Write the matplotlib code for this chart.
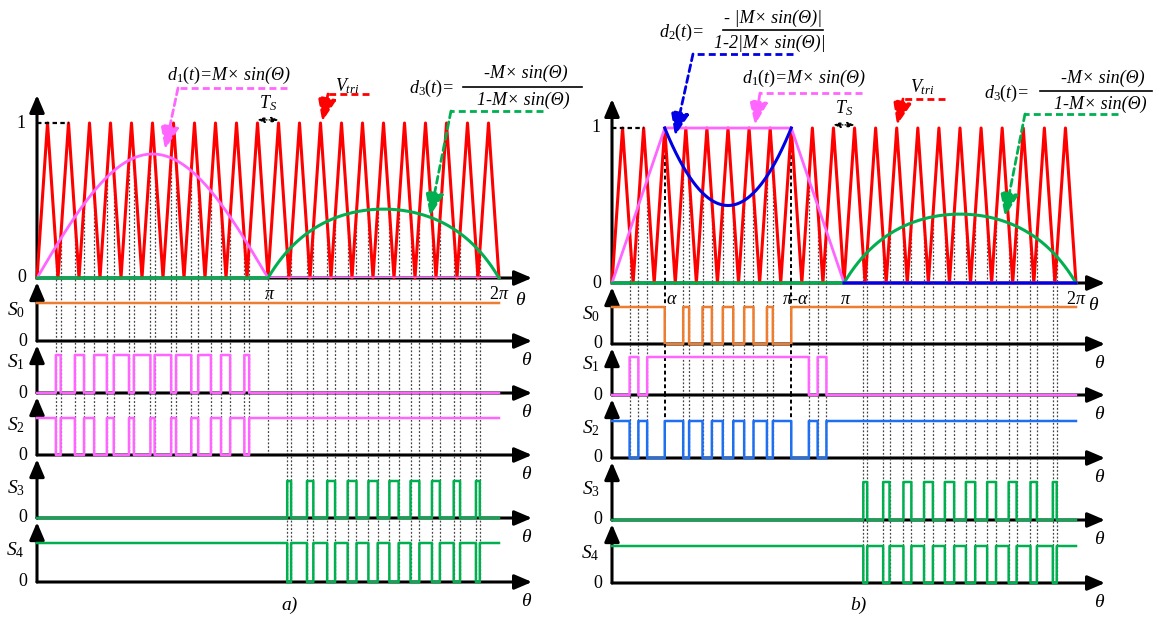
import numpy as np
import matplotlib.pyplot as plt
from matplotlib.lines import Line2D

plt.rcParams['font.family'] = ['Liberation Serif', 'DejaVu Serif']
plt.rcParams['mathtext.fontset'] = 'custom'
plt.rcParams['mathtext.rm'] = 'Liberation Serif'
plt.rcParams['mathtext.it'] = 'Liberation Serif:italic'
plt.rcParams['mathtext.bf'] = 'Liberation Serif:bold'

W, H = 1163, 619
PI = np.pi

# values
n_periods = 22            # carrier triangles over 0..2pi
M_a = 0.8                 # modulation index, panel a)
alpha = 2.5 * PI / 11     # saturation angle, panel b)
d2_min = 0.5              # lowest point of d2 in panel b)
d1b_theta = [0, alpha, PI - alpha, PI]
d1b_val = [0, 1, 1, 0]
switch_names = ['$S_\\mathit{0}$', '$S_\\mathit{1}$', '$S_2$', '$S_3$', '$S_4$']

RED, MAG, GRN, ORG = '#ff0000', '#ff66ff', '#00b050', '#ed7d31'
BLU, SKY, DOT = '#0000e6', '#1f70f0', '#444444'

th = np.linspace(0, 2 * PI, 40001)
car_th = np.arange(2 * n_periods + 1) * PI / n_periods
car_v = np.arange(2 * n_periods + 1) % 2
tri = np.interp(th, car_th, car_v)
first = th < PI
second = (th > PI) & (th < 2 * PI - 1e-6)
sn = np.sin(th)

# panel a
d1a = np.where(th <= PI, M_a * sn, 0.0)
d3 = np.where(th >= PI, -M_a * sn / (1 - M_a * sn), 0.0)
S1a = (d1a > tri) & first
S3a = (d3 > tri) & second
sig_a = [np.ones_like(th, dtype=bool), S1a, ~S1a, S3a, ~S3a]

# panel b
d1b = np.interp(th, d1b_theta, d1b_val)
mid = (th > alpha) & (th < PI - alpha)
u = (th - PI / 2) / (PI / 2 - alpha)
d2 = d2_min + (1 - d2_min) * u ** 2
d2_plot = np.where(mid, d2, np.where(th > PI, 0.0, np.nan))
S0b = np.where(mid, tri > d2, True)
S1b = np.where(mid, True, d1b > tri) & first
S2b = np.where(mid, ~S0b, ~S1b)
sig_b = [S0b, S1b, S2b, S3a, ~S3a]


def edges(sigs, skip=()):
    out = []
    for s in sigs:
        out += list(th[1:][np.diff(s.astype(int)) != 0])
    out = np.unique(np.round(out, 3))
    keep = [t for t in out if all(abs(t - k) > 0.01 for k in skip)]
    return np.array(keep)


fig = plt.figure(figsize=(W / 100, H / 100), dpi=100)


def add_ax(x0, x1, ytop, ybot, xmax, ymax):
    ax = fig.add_axes([x0 / W, 1 - ybot / H, (x1 - x0) / W, (ybot - ytop) / H])
    ax.set_xlim(0, xmax)
    ax.set_ylim(0, ymax)
    ax.axis('off')
    return ax


def arrows(ax, gap):
    ap = dict(arrowstyle='-|>,head_width=0.32,head_length=0.75', color='k', lw=2.2,
              shrinkA=0, shrinkB=0, mutation_scale=14)
    ax.annotate('', xy=(1, 0), xytext=(0, 0), xycoords='axes fraction', arrowprops=ap, zorder=1)
    ap = dict(ap, shrinkB=gap)
    ax.annotate('', xy=(0, 1), xytext=(0, 0), xycoords='axes fraction', arrowprops=ap, zorder=1)


def ftext(x, y, s, **kw):
    kw.setdefault('fontsize', 13)
    kw.setdefault('ha', 'center')
    fig.text(x / W, 1 - y / H, s, va='center', **kw)


def fline(xs, ys, **kw):
    fig.add_artist(Line2D([x / W for x in xs], [1 - y / H for y in ys], **kw))


def leader(ax, corner_from, corner, tip, color):
    fline([corner_from[0], corner[0]], [corner_from[1], corner[1]], color=color, lw=2,
          ls=(0, (2.5, 1.5)))
    ax.annotate('', xy=tip, xycoords='data', xytext=(corner[0], H - corner[1]),
                textcoords='figure pixels',
                arrowprops=dict(arrowstyle='-|>,head_width=0.4,head_length=1.0', color=color,
                                lw=2, ls=(0, (2.5, 1.5)), shrinkA=0, shrinkB=0,
                                mutation_scale=14))


panels = [
    dict(x0=37, px_pi=231, tip=532, top=95, base=278, unit=155,
         strips=[(278, 341, 303), (341, 393, 355), (393, 455, 418), (455, 518, 481), (518, 582, 543)],
         sigs=sig_a, cols=[ORG, MAG, MAG, GRN, GRN], cap='a)', cap_x=290),
    dict(x0=612, px_pi=232, tip=1105, top=99, base=283, unit=155,
         strips=[(283, 344, 307), (344, 395, 357), (395, 458, 421), (458, 520, 482), (520, 583, 546)],
         sigs=sig_b, cols=[ORG, MAG, SKY, GRN, GRN], cap='b)', cap_x=858),
]

P = PI / 11  # carrier period
tops = []
for k, p in enumerate(panels):
    xmax = (p['tip'] - p['x0']) / p['px_pi'] * PI
    ax = add_ax(p['x0'], p['tip'], p['top'], p['base'], xmax, (p['base'] - p['top']) / p['unit'])
    arrows(ax, 0)
    tops.append(ax)
    strips = []
    for (yt, yb, yh) in p['strips']:
        s = add_ax(p['x0'], p['tip'], yt, yb, xmax, (yb - yt) / (yb - yh))
        arrows(s, 3)
        strips.append(s)

    # carrier and helpers
    ax.plot(car_th, car_v, color=RED, lw=2.2, zorder=2, clip_on=False)
    ax.plot([0, 1.5 * P], [1, 1], color='k', lw=1.6, ls=(0, (2, 1.5)), zorder=2)
    ax.annotate('', xy=(11.5 * P, 1.02), xytext=(10.5 * P, 1.02),
                arrowprops=dict(arrowstyle='<|-|>,head_width=0.25,head_length=0.6', color='k',
                                lw=0.9, ls=':', mutation_scale=7, shrinkA=0, shrinkB=0))
    ax.annotate('$T_S$', xy=(11 * P, 1.02), xytext=(0, 5), textcoords='offset points',
                ha='center', va='bottom', fontsize=13)

    ax.annotate('1', xy=(0, 1), xytext=(-8, 0), textcoords='offset points', ha='right', va='center', fontsize=13)
    ax.annotate('0', xy=(0, 0), xytext=(-8, 0), textcoords='offset points', ha='right', va='center', fontsize=13)
    ax.annotate('$\\pi$', xy=(PI, 0), xytext=(1, -6), textcoords='offset points', ha='center', va='top', fontsize=13)
    ax.annotate('$2\\pi$', xy=(2 * PI, 0), xytext=(0, -6), textcoords='offset points', ha='center', va='top', fontsize=13)
    ax.annotate('$\\theta$', xy=(xmax, 0), xytext=(-8, -16), textcoords='offset points', ha='center', va='center', fontsize=14)

    for i, s in enumerate(strips):
        s.plot(th, p['sigs'][i].astype(float), color=p['cols'][i], lw=1.8,
               drawstyle='steps-post', zorder=3, clip_on=False)
        s.annotate(switch_names[i], xy=(0, 1), xytext=(-9, -5), textcoords='offset points',
                   ha='right', va='center', fontsize=14)
        s.annotate('0', xy=(0, 0), xytext=(-7, 0), textcoords='offset points', ha='right', va='center', fontsize=13)
        s.annotate('$\\theta$', xy=(xmax, 0), xytext=(-4, -14), textcoords='offset points',
                   ha='center', va='center', fontsize=14)

    ftext(p['cap_x'], 605, p['cap'], fontsize=14, style='italic')

    # dotted switching instants
    if k == 0:
        ax.plot(th, d1a, color=MAG, lw=2, zorder=3)
        ax.plot(th, d3, color=GRN, lw=2.2, zorder=3, clip_on=False)
        ts = edges([S1a, S3a])
        for s in strips[:3]:
            s.axvline(PI, color=DOT, lw=0.9, ls=(0, (1.5, 1.5)), zorder=0.5)
    else:
        ax.plot(th, d1b, color=MAG, lw=2, zorder=3, clip_on=False)
        ax.plot(th, d3, color=GRN, lw=2.2, zorder=3, clip_on=False)
        ax.plot(th, d2_plot, color=BLU, lw=2.2, zorder=4, clip_on=False)
        ts = edges([S0b, S1b, S2b, S3a], skip=(alpha, PI - alpha))
        for a in (alpha, PI - alpha):
            ax.plot([a, a], [1, 0], color='k', lw=1.4, ls=(0, (2, 1.5)), zorder=1)
            for s in strips[:3]:
                s.axvline(a, color='k', lw=1.4, ls=(0, (2, 1.5)), zorder=0.5)
        ax.annotate('$\\alpha$', xy=(alpha, 0), xytext=(5, -6), textcoords='offset points', ha='center', va='top', fontsize=13)
        ax.annotate('$\\pi$-$\\alpha$', xy=(PI - alpha, 0), xytext=(3, -6), textcoords='offset points', ha='center', va='top', fontsize=13)

    for t in ts:
        v = np.interp(t, th, tri)
        ax.plot([t, t], [v, 0], color=DOT, lw=0.9, ls=(0, (1.5, 1.5)), zorder=1)
        for s in (strips if t > PI else strips[:3]):
            s.axvline(t, color=DOT, lw=0.9, ls=(0, (1.5, 1.5)), zorder=0.5)

axa, axb = tops

# annotations, panel a
ftext(229, 75, '$d_1(t)$=M× sin(Θ)', style='italic')
leader(axa, (287, 88), (178, 88), (1.74, 0.83), MAG)
ftext(347, 86, '$V_{tri}$', fontsize=13)
leader(axa, (369, 94), (328, 94), (3.88, 1.01), RED)
ftext(432, 88, '$d_3(t)$=', style='italic')
ftext(526, 73, '-M× sin(Θ)', style='italic')
fline([463, 582], [87, 87], color='k', lw=1.2)
ftext(523, 100, '1-M× sin(Θ)', style='italic')
leader(axa, (543, 111), (451, 111), (5.345, 0.40), GRN)

# annotations, panel b
ftext(682, 32, '$d_2(t)$=', style='italic')
ftext(773, 18, '- |M× sin(Θ)|', style='italic')
fline([723, 823], [30, 30], color='k', lw=1.2)
ftext(770, 43, '1-2|M× sin(Θ)|', style='italic')
leader(axb, (793, 54), (693, 54), (0.853, 0.95), BLU)
ftext(804, 78, '$d_1(t)$=M× sin(Θ)', style='italic')
leader(axb, (862, 93), (760, 93), (1.936, 1.02), MAG)
ftext(922, 87, '$V_{tri}$', fontsize=13)
leader(axb, (945, 99), (903, 99), (3.86, 1.02), RED)
ftext(1007, 93, '$d_3(t)$=', style='italic')
ftext(1103, 78, '-M× sin(Θ)', style='italic')
fline([1040, 1152], [91, 91], color='k', lw=1.2)
ftext(1100, 104, '1-M× sin(Θ)', style='italic')
leader(axb, (1118, 114), (1025, 114), (5.32, 0.43), GRN)

fig.savefig('out.png', dpi=100)
